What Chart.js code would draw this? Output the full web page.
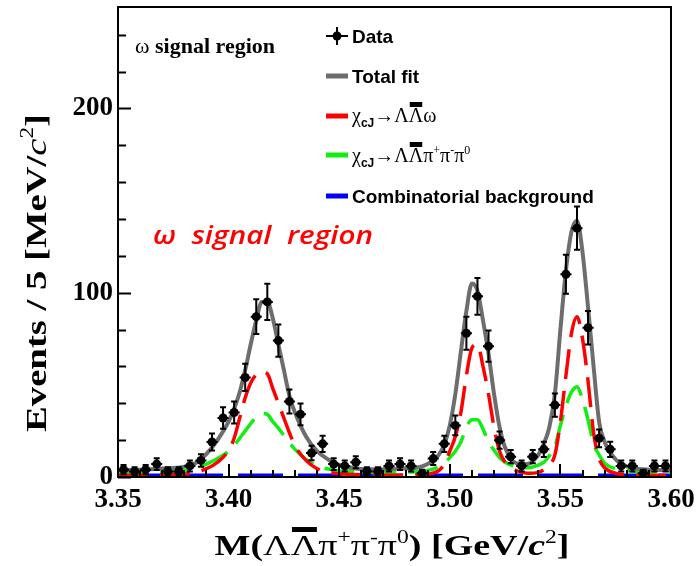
<!DOCTYPE html>
<html>
<head>
<meta charset="utf-8">
<script src="https://cdn.jsdelivr.net/npm/chart.js@4.4.1/dist/chart.umd.min.js"></script>
<style>
  html, body { margin: 0; padding: 0; background: #fff; }
</style>
</head>
<body>
<canvas id="myChart" width="697" height="566"></canvas>
<script>
// Data: events per 5 MeV bin (bin centres in GeV)
const massBins = [
  3.3525, 3.3575, 3.3625, 3.3675, 3.3725, 3.3775, 3.3825, 3.3875, 3.3925, 3.3975,
  3.4025, 3.4075, 3.4125, 3.4175, 3.4225, 3.4275, 3.4325, 3.4375, 3.4425, 3.4475,
  3.4525, 3.4575, 3.4625, 3.4675, 3.4725, 3.4775, 3.4825, 3.4875, 3.4925, 3.4975,
  3.5025, 3.5075, 3.5125, 3.5175, 3.5225, 3.5275, 3.5325, 3.5375, 3.5425, 3.5475,
  3.5525, 3.5575, 3.5625, 3.5675, 3.5725, 3.5775, 3.5825, 3.5875, 3.5925, 3.5975
]
const events = [
  4, 3, 4, 7, 3, 3, 6, 9, 19, 32,
  35, 54, 87, 95, 74, 41, 34, 13, 18, 7,
  6, 8, 3, 3, 6, 7, 6, 2, 10, 18,
  28, 78, 98, 71, 20, 11, 6, 11, 15, 39,
  110, 135, 81, 21, 15, 6, 6, 2, 6, 6
]
const eventErrors = [
  2.5, 2.3, 2.5, 3.2, 2.3, 2.3, 3.0, 3.4, 4.6, 5.8,
  6.0, 7.4, 9.4, 9.8, 8.7, 6.5, 5.9, 3.9, 4.4, 3.2,
  3.0, 3.3, 2.3, 2.3, 3.0, 3.2, 3.0, 2.0, 3.5, 4.4,
  5.4, 8.9, 10.0, 8.5, 4.7, 3.6, 3.0, 3.6, 4.1, 6.3,
  10.6, 11.7, 9.1, 4.8, 4.1, 3.0, 3.0, 2.0, 3.0, 3.0
]

// Fit curves
const fitMass = [
  3.350, 3.360, 3.370, 3.380, 3.385, 3.390, 3.395, 3.400, 3.4025, 3.405,
  3.4075, 3.410, 3.4125, 3.415, 3.4175, 3.420, 3.4225, 3.425, 3.4275, 3.430,
  3.435, 3.440, 3.445, 3.450, 3.460, 3.470, 3.480, 3.485, 3.490, 3.495,
  3.4975, 3.500, 3.5025, 3.505, 3.5075, 3.510, 3.5125, 3.515, 3.5175, 3.520,
  3.5225, 3.525, 3.530, 3.535, 3.540, 3.5425, 3.545, 3.5475, 3.550, 3.5525,
  3.555, 3.5575, 3.560, 3.5625, 3.565, 3.5675, 3.570, 3.575, 3.580, 3.590,
  3.600
]
const totalFit = [
  3.8, 4.0, 4.6, 5.6, 7.5, 12.5, 20, 30, 37, 46,
  58, 72, 85, 95, 95, 86, 72, 58, 44, 35,
  22, 14, 9.5, 6.5, 4.4, 4.2, 4.6, 5.0, 7.0, 12,
  17.5, 28, 45, 68, 90, 105, 101, 85, 67, 45,
  27, 16, 7.5, 7, 12, 18, 27, 45, 80, 112,
  133, 139, 122, 92, 60, 30, 19, 9.5, 5.8, 4.0,
  3.8
]
const lambdaOmegaFit = [
  0.9, 1.0, 1.2, 1.6, 2.4, 4.5, 8, 14.5, 21, 32,
  43, 51, 55.5, 57, 56, 48, 40, 32, 24, 17,
  9, 4.5, 2.6, 1.8, 1.2, 1.0, 1.0, 1.1, 1.5, 3.5,
  7, 14, 22, 35, 55, 70, 72, 60, 45, 27,
  14, 8, 3.5, 2, 2.5, 4, 6.5, 12, 30, 55,
  78, 87, 75, 52, 24, 10, 5, 2, 1.2, 0.9,
  0.8
]
const fourBodyFit = [
  2.3, 2.4, 2.8, 3.4, 4.5, 7, 10, 14, 17, 21,
  25, 29, 32.5, 34.5, 34, 30, 26.5, 22.5, 18.5, 15,
  9.5, 6, 4.3, 3.3, 2.6, 2.4, 2.6, 2.9, 3.6, 5.5,
  7.5, 10.5, 14, 19, 27, 31, 31, 26, 19, 14.5,
  10.5, 8, 5.6, 5, 6.5, 8, 11.5, 16.5, 28, 38.5,
  46, 49, 42, 31, 18, 12, 7.5, 4.5, 3.5, 2.8,
  2.6
]
const bkgMass = [3.35, 3.60]
const bkgFit = [0.8, 0.8]

const massLabels = ['3.35', '3.40', '3.45', '3.50', '3.55', '3.60']
const countLabels = ['0', '100', '200']

const SERIF = "'Liberation Serif', 'Times New Roman', serif"
const SANS = "'Liberation Sans', Arial, sans-serif"
const GREY = '#6d6d6d'
const RED = '#ff0000'
const GREEN = '#11ee11'
const BLUE = '#0000ff'

const toPoints = (xs, ys) => xs.map((x, i) => ({ x: x, y: ys[i] }))

// draw a run of text pieces with different fonts, optionally stretched to a width
function drawRich(ctx, x, y, parts, align, target) {
  let w = 0
  parts.forEach((p) => {
    ctx.font = p.font
    p.w = ctx.measureText(p.text).width
    w += p.w
  })
  ctx.save()
  ctx.translate(x, y)
  if (target) ctx.scale(target / w, 1)
  let cx = align === 'center' ? -w / 2 : 0
  parts.forEach((p) => {
    ctx.font = p.font
    ctx.fillText(p.text, cx, p.dy || 0)
    if (p.bar) ctx.fillRect(cx + 1, p.bar[0], p.w - 2, p.bar[1])
    cx += p.w
  })
  ctx.restore()
}

const errorBars = {
  id: 'errorBars',
  afterDatasetsDraw(chart) {
    const { ctx, scales: { x, y } } = chart
    ctx.save()
    ctx.strokeStyle = '#000'
    ctx.lineWidth = 2
    massBins.forEach((m, i) => {
      const px = x.getPixelForValue(m)
      const top = y.getPixelForValue(events[i] + eventErrors[i])
      const bot = y.getPixelForValue(events[i] - eventErrors[i])
      const py = y.getPixelForValue(events[i])
      const xl = x.getPixelForValue(m - 0.0025)
      const xr = x.getPixelForValue(m + 0.0025)
      ctx.beginPath()
      ctx.moveTo(px, top); ctx.lineTo(px, bot)
      ctx.moveTo(px - 3, top); ctx.lineTo(px + 3, top)
      ctx.moveTo(px - 3, bot); ctx.lineTo(px + 3, bot)
      ctx.moveTo(xl, py); ctx.lineTo(xr, py)
      ctx.stroke()
    })
    ctx.restore()
  }
}

const frameAndTexts = {
  id: 'frameAndTexts',
  afterDraw(chart) {
    const { ctx, chartArea: a, scales: { x, y } } = chart
    ctx.save()
    ctx.strokeStyle = '#000'
    ctx.fillStyle = '#000'

    // inward ticks
    ctx.lineWidth = 2
    ctx.beginPath()
    y.ticks.forEach((t) => {
      const py = Math.round(y.getPixelForValue(t.value)) + 0.5
      const len = t.value % 100 === 0 ? 13 : 8
      ctx.moveTo(a.left, py); ctx.lineTo(a.left + len, py)
    })
    x.ticks.forEach((t) => {
      const px = Math.round(x.getPixelForValue(t.value))
      const len = massLabels.includes(t.value.toFixed(2)) ? 13 : 7
      ctx.moveTo(px, a.bottom); ctx.lineTo(px, a.bottom - len)
    })
    ctx.stroke()
    ctx.strokeRect(a.left, a.top, a.right - a.left, a.bottom - a.top)

    ctx.textAlign = 'left'
    ctx.textBaseline = 'alphabetic'

    // x title
    const sup = `18px ${SERIF}`
    const g29 = `29px ${SERIF}`
    const b29 = `bold 29px ${SERIF}`
    drawRich(ctx, 392, 555, [
      { text: 'M(', font: b29 },
      { text: 'Λ', font: g29 },
      { text: 'Λ', font: g29, bar: [-28, 5] },
      { text: 'π', font: g29 },
      { text: '+', font: sup, dy: -12 },
      { text: 'π', font: g29 },
      { text: '-', font: sup, dy: -12 },
      { text: 'π', font: g29 },
      { text: '0', font: sup, dy: -12 },
      { text: ') [GeV/', font: b29 },
      { text: 'c', font: `italic bold 29px ${SERIF}` },
      { text: '2', font: sup, dy: -12 },
      { text: ']', font: b29 }
    ], 'center', 355)

    // y title
    ctx.save()
    ctx.translate(46, 273)
    ctx.rotate(-Math.PI / 2)
    const b30 = `bold 30px ${SERIF}`
    drawRich(ctx, 0, 0, [
      { text: 'Events / 5 [MeV/', font: b30 },
      { text: 'c', font: `italic 30px ${SERIF}` },
      { text: '2', font: `18px ${SERIF}`, dy: -13 },
      { text: ']', font: b30 }
    ], 'center', 318)
    ctx.restore()

    // region label
    drawRich(ctx, 135, 53, [
      { text: 'ω', font: `21px ${SERIF}` },
      { text: ' signal region', font: `bold 21px ${SERIF}` }
    ], 'left', 140)

    // legend
    const lx0 = 326, lx1 = 348, tx = 352
    ctx.lineWidth = 2
    ctx.beginPath()
    ctx.moveTo(lx0, 36); ctx.lineTo(lx1, 36)
    ctx.moveTo(337, 27); ctx.lineTo(337, 45)
    ctx.stroke()
    ctx.beginPath()
    ctx.arc(337, 36, 4.5, 0, Math.PI * 2)
    ctx.fill()
    const swatches = [[GREY, 76], [RED, 116], [GREEN, 155], [BLUE, 196]]
    swatches.forEach(([c, sy]) => {
      ctx.fillStyle = c
      ctx.fillRect(lx0, sy - 2.5, lx1 - lx0, 5)
    })
    ctx.fillStyle = '#000'
    ctx.font = `bold 19px ${SANS}`
    ctx.fillText('Data', tx, 43)
    ctx.fillText('Total fit', tx, 83)
    ctx.fillText('Combinatorial background', tx, 203)
    const g20 = `20px ${SERIF}`
    const subf = `bold 12px ${SANS}`
    const chiHead = () => [
      { text: 'χ', font: g20 },
      { text: 'cJ', font: subf, dy: 5 },
      { text: '→', font: g20 },
      { text: 'Λ', font: g20 },
      { text: 'Λ', font: g20, bar: [-20, 5] }
    ]
    drawRich(ctx, tx, 122, chiHead().concat([{ text: 'ω', font: g20 }]))
    drawRich(ctx, tx, 162, chiHead().concat([
      { text: 'π', font: g20 },
      { text: '+', font: `12px ${SERIF}`, dy: -8 },
      { text: 'π', font: g20 },
      { text: '-', font: `12px ${SERIF}`, dy: -8 },
      { text: 'π', font: g20 },
      { text: '0', font: `12px ${SERIF}`, dy: -8 }
    ]))

    // red annotation
    ctx.fillStyle = '#ff0000'
    drawRich(ctx, 153, 244, [
      { text: 'ω  signal  region', font: `italic 600 25px 'Open Sans', ${SANS}` }
    ], 'left', 220)
    ctx.restore()
  }
}

const curve = (label, xs, ys, color, width, dash, order) => ({
  type: 'scatter',
  label: label,
  data: toPoints(xs, ys),
  showLine: true,
  borderColor: color,
  borderWidth: width,
  borderDash: dash,
  cubicInterpolationMode: 'monotone',
  pointRadius: 0,
  order: order
})

new Chart(document.getElementById('myChart'), {
  type: 'scatter',
  data: {
    datasets: [
      {
        label: 'Data',
        data: toPoints(massBins, events),
        pointRadius: 4.5,
        pointBackgroundColor: '#000',
        pointBorderColor: '#000',
        pointBorderWidth: 0,
        order: 0
      },
      curve('Total fit', fitMass, totalFit, GREY, 4, [], 1),
      curve('χcJ→ΛΛ̄ω', fitMass, lambdaOmegaFit, RED, 3.5, [30, 12], 2),
      curve('χcJ→ΛΛ̄π+π-π0', fitMass, fourBodyFit, GREEN, 3.5, [30, 12], 3),
      curve('Combinatorial background', bkgMass, bkgFit, BLUE, 4, [45, 15], 4)
    ]
  },
  options: {
    responsive: false,
    animation: false,
    layout: { padding: { left: 0, right: 26, top: 7, bottom: 0 } },
    plugins: {
      legend: { display: false },
      tooltip: { enabled: false }
    },
    scales: {
      x: {
        type: 'linear',
        min: 3.35,
        max: 3.60,
        afterFit: (s) => { s.height = 89 },
        grid: { display: false, drawTicks: true, tickLength: 7 },
        border: { display: false },
        ticks: {
          stepSize: 0.01,
          autoSkip: false,
          maxRotation: 0,
          minRotation: 0,
          includeBounds: false,
          padding: 0,
          color: '#000',
          font: { family: SERIF, size: 27, weight: 'bold' },
          callback: (v) => {
            const s = Number(v).toFixed(2)
            return massLabels.includes(s) ? s : ''
          }
        }
      },
      y: {
        min: 0,
        max: 255,
        afterFit: (s) => { s.width = 118 },
        grid: { display: false, drawTicks: true, tickLength: 5 },
        border: { display: false },
        ticks: {
          stepSize: 20,
          includeBounds: false,
          padding: 0,
          color: '#000',
          font: { family: SERIF, size: 27, weight: 'bold', lineHeight: 0.4 },
          callback: (v) => (countLabels.includes(String(v)) ? String(v) : '')
        }
      }
    }
  },
  plugins: [errorBars, frameAndTexts]
})
</script>
</body>
</html>
